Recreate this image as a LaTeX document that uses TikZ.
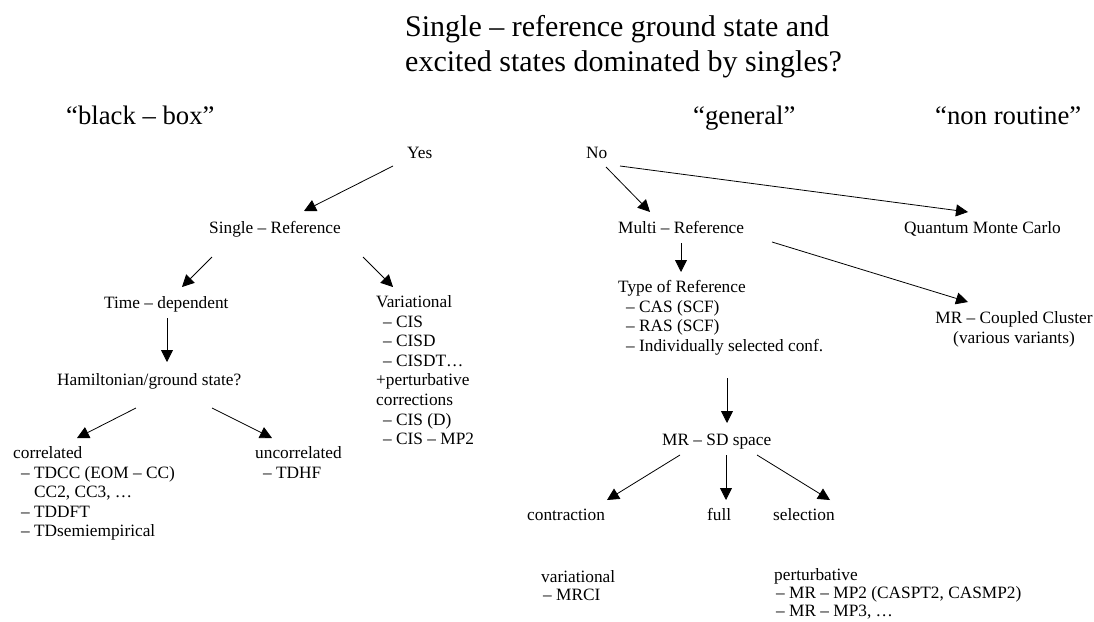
\documentclass[tikz,border=0pt]{standalone}
\usepackage{fontspec}
\setmainfont{Liberation Serif}
\usetikzlibrary{arrows.meta}
\newcommand{\mylines}[1]{\begin{tabular}[t]{@{}l@{}}#1\end{tabular}}
\newcommand{\mycenter}[1]{\begin{tabular}[t]{@{}c@{}}#1\end{tabular}}
\begin{document}
\begin{tikzpicture}[x=1pt,y=-1pt,
  txt/.style={inner sep=0pt, anchor=base west, font=\fontsize{17.3}{19.6}\selectfont},
  txtb/.style={inner sep=0pt, anchor=base west, font=\fontsize{17.3}{18}\selectfont},
  lbl/.style={inner sep=0pt, anchor=base west, font=\fontsize{26.7}{31}\selectfont},
  ttl/.style={inner sep=0pt, anchor=base west, font=\fontsize{30}{35}\selectfont},
  arr/.style={line width=0.8pt, -{Triangle[length=12pt,width=12pt]}}]
\useasboundingbox (0,0) rectangle (1094,621);
\fill[white] (0,0) rectangle (1094,621);

% title and column labels
\node[ttl] (title) at (405,36) {\mylines{Single – reference ground state and\\excited states dominated by singles?}};
\node[lbl] (bb) at (66,124) {“black – box”};
\node[lbl] (gen) at (693,124) {“general”};
\node[lbl] (nr) at (935,124) {“non routine”};

% nodes
\node[txt] (yes) at (407,158.5) {Yes};
\node[txt] (no) at (586,158.5) {No};
\node[txt] (sr) at (209,233.5) {Single – Reference};
\node[txt] (mr) at (618,233.5) {Multi – Reference};
\node[txt] (qmc) at (904,233.5) {Quantum Monte Carlo};
\node[txt] (td) at (104,308.5) {Time – dependent};
\node[txt] (ham) at (57,385.5) {Hamiltonian/ground state?};
\node[txt] (corr) at (13,458.5) {\mylines{correlated\\\hspace*{8pt}– TDCC (EOM – CC)\\\hspace*{21pt}CC2, CC3, …\\\hspace*{8pt}– TDDFT\\\hspace*{8pt}– TDsemiempirical}};
\node[txt] (unc) at (255,458.5) {\mylines{uncorrelated\\\hspace*{8pt}– TDHF}};
\node[txt] (var) at (376,307.5) {\mylines{Variational\\\hspace*{7pt}– CIS\\\hspace*{7pt}– CISD\\\hspace*{7pt}– CISDT…\\+perturbative\\corrections\\\hspace*{7pt}– CIS (D)\\\hspace*{7pt}– CIS – MP2}};
\node[txt] (tor) at (618,292.5) {\mylines{Type of Reference\\\hspace*{8pt}– CAS (SCF)\\\hspace*{8pt}– RAS (SCF)\\\hspace*{8pt}– Individually selected conf.}};
\node[txt, anchor=base] (mrcc) at (1014,323.5) {\mycenter{MR – Coupled Cluster\\(various variants)}};
\node[txt] (mrsd) at (662,445.5) {MR – SD space};
\node[txt] (con) at (527,520.5) {contraction};
\node[txt] (full) at (707,520.5) {full};
\node[txt] (sel) at (773,520.5) {selection};
\node[txtb] (mrci) at (541,582.5) {\mylines{variational\\\hspace*{2pt}– MRCI}};
\node[txtb] (pert) at (774,580.5) {\mylines{perturbative\\\hspace*{2pt}– MR – MP2 (CASPT2, CASMP2)\\\hspace*{2pt}– MR – MP3, …}};

% arrow end points
\coordinate (yes-s) at (393,166);  \coordinate (sr-t) at (304,211);
\coordinate (no-s1) at (606,167);  \coordinate (mr-t) at (650,212);
\coordinate (no-s2) at (620,166);  \coordinate (qmc-t) at (968,212);
\coordinate (sr-s1) at (212,257);  \coordinate (td-t) at (182,287);
\coordinate (sr-s2) at (363,257);  \coordinate (var-t) at (393,287);
\coordinate (td-s) at (167,318);   \coordinate (ham-t) at (167,362);
\coordinate (ham-s1) at (136,408); \coordinate (corr-t) at (77,438);
\coordinate (ham-s2) at (212,408); \coordinate (unc-t) at (272,438);
\coordinate (mr-s1) at (681,243);  \coordinate (tor-t) at (681,272);
\coordinate (mr-s2) at (772,242);  \coordinate (mrcc-t) at (968,302);
\coordinate (tor-s) at (727,378);  \coordinate (mrsd-t) at (727,423);
\coordinate (mrsd-s1) at (680,455); \coordinate (con-t) at (607,500);
\coordinate (mrsd-s2) at (726,455); \coordinate (full-t) at (726,500);
\coordinate (mrsd-s3) at (757,455); \coordinate (sel-t) at (830,500);

\draw[arr] (yes-s) -- (sr-t);
\draw[arr] (no-s1) -- (mr-t);
\draw[arr] (no-s2) -- (qmc-t);
\draw[arr] (sr-s1) -- (td-t);
\draw[arr] (sr-s2) -- (var-t);
\draw[arr] (td-s) -- (ham-t);
\draw[arr] (ham-s1) -- (corr-t);
\draw[arr] (ham-s2) -- (unc-t);
\draw[arr] (mr-s1) -- (tor-t);
\draw[arr] (mr-s2) -- (mrcc-t);
\draw[arr] (tor-s) -- (mrsd-t);
\draw[arr] (mrsd-s1) -- (con-t);
\draw[arr] (mrsd-s2) -- (full-t);
\draw[arr] (mrsd-s3) -- (sel-t);
\end{tikzpicture}
\end{document}
